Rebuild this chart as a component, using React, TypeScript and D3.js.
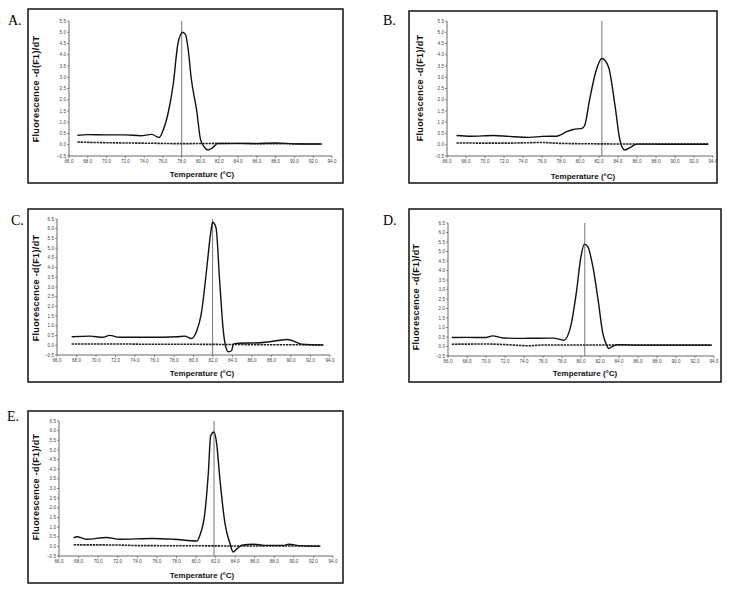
import React from 'react';
import * as d3 from 'd3';

// melt curves, temperature in °C and -d(F1)/dT
const aTemp = [66.9, 68.0, 70.0, 72.0, 73.6, 74.8, 75.6, 76.0, 76.6, 77.1, 77.6, 78.1, 78.4, 78.7, 79.0, 79.6, 80.0, 80.4, 80.8, 81.3, 81.8, 84.0, 86.0, 88.0, 90.0, 92.9];
const aSignal = [0.42, 0.45, 0.44, 0.44, 0.40, 0.46, 0.32, 0.62, 1.5, 2.7, 4.5, 5.0, 4.9, 4.2, 3.0, 1.5, 0.24, -0.1, -0.23, -0.13, 0.05, 0.06, 0.05, 0.08, 0.04, 0.03];
const aBaseTemp = [66.9, 70.0, 74.0, 78.0, 82.0, 86.0, 90.0, 92.9];
const aBaseline = [0.12, 0.09, 0.07, 0.05, 0.06, 0.05, 0.04, 0.03];

const bTemp = [67.0, 68.5, 70.9, 72.5, 74.7, 76.0, 77.5, 78.0, 78.6, 79.3, 80.2, 80.5, 81.0, 81.7, 82.3, 83.0, 83.7, 84.2, 84.7, 85.4, 86.0, 88.0, 90.0, 93.5];
const bSignal = [0.41, 0.38, 0.41, 0.37, 0.33, 0.37, 0.38, 0.45, 0.58, 0.68, 0.73, 0.87, 1.98, 3.3, 3.83, 3.46, 1.69, 0.21, -0.23, -0.09, 0.03, 0.03, 0.02, 0.02];
const bBaseTemp = [67.0, 72.0, 76.0, 78.0, 82.0, 88.0, 93.5];
const bBaseline = [0.08, 0.07, 0.1, 0.06, 0.04, 0.03, 0.03];

const cTemp = [67.5, 69.4, 70.7, 71.4, 72.4, 75.5, 78.3, 79.1, 79.8, 80.3, 80.8, 81.3, 81.75, 81.96, 82.3, 82.7, 83.05, 83.3, 83.57, 83.9, 84.1, 84.4, 86.8, 88.5, 89.6, 90.2, 91.1, 93.3];
const cSignal = [0.44, 0.47, 0.41, 0.51, 0.41, 0.41, 0.44, 0.47, 0.35, 0.70, 1.63, 3.68, 5.73, 6.33, 6.07, 3.17, 0.78, -0.07, -0.33, -0.28, 0.06, 0.10, 0.13, 0.23, 0.30, 0.23, 0.06, 0.01];
const cBaseTemp = [67.5, 72.0, 76.0, 80.0, 84.0, 88.0, 93.3];
const cBaseline = [0.07, 0.07, 0.05, 0.05, 0.04, 0.03, 0.02];

const dTemp = [66.4, 68.0, 70.0, 70.7, 71.8, 74.0, 77.1, 78.2, 78.9, 79.5, 80.0, 80.36, 80.7, 81.25, 81.8, 82.3, 82.7, 82.93, 83.3, 83.9, 86.0, 90.0, 93.75];
const dSignal = [0.47, 0.48, 0.47, 0.56, 0.45, 0.43, 0.44, 0.33, 1.03, 2.8, 4.74, 5.39, 5.27, 4.2, 2.45, 0.68, 0.07, -0.11, 0.01, 0.1, 0.07, 0.07, 0.07];
const dBaseTemp = [66.4, 70.0, 72.0, 74.5, 76.0, 80.0, 84.0, 90.0, 93.75];
const dBaseline = [0.12, 0.13, 0.1, 0.04, 0.08, 0.08, 0.08, 0.07, 0.07];

const eTemp = [67.5, 67.8, 68.8, 70.85, 72.2, 75.6, 77.7, 80.1, 80.4, 80.9, 81.26, 81.5, 81.84, 82.1, 82.45, 82.96, 83.47, 83.8, 84.2, 84.67, 85.9, 87.0, 88.9, 89.5, 90.5, 92.7];
const eSignal = [0.44, 0.5, 0.37, 0.46, 0.37, 0.41, 0.37, 0.28, 0.58, 1.71, 3.8, 5.72, 5.93, 5.37, 3.45, 1.19, 0.15, -0.29, -0.12, 0.06, 0.11, 0.05, 0.05, 0.11, 0.04, 0.01];
const eBaseTemp = [67.5, 72.0, 74.0, 80.0, 84.0, 88.0, 92.7];
const eBaseline = [0.08, 0.07, 0.04, 0.03, 0.02, 0.02, 0.01];

// Tm markers
const peakTemps = [78.0, 82.3, 81.96, 80.4, 81.84];
const yTops = [5.5, 5.5, 6.5, 6.5, 6.5];
const panelLabels = ['A.', 'B.', 'C.', 'D.', 'E.'];
const xTicks = d3.range(66, 95, 2);

const series = [
  [aTemp, aSignal, aBaseTemp, aBaseline],
  [bTemp, bSignal, bBaseTemp, bBaseline],
  [cTemp, cSignal, cBaseTemp, cBaseline],
  [dTemp, dSignal, dBaseTemp, dBaseline],
  [eTemp, eSignal, eBaseTemp, eBaseline],
];

// layout: frame box, plot area [left, top, right, bottom], label / title spots
const layout = [
  { box: [28, 9, 343, 183], plot: [69, 21, 332, 156], lab: [8, 25], yt: [36, 89], xt: [202, 174] },
  { box: [409, 11, 717, 183], plot: [447, 21, 713, 156], lab: [383, 25], yt: [420, 88], xt: [583, 176] },
  { box: [28, 209, 343, 382], plot: [57, 219, 330, 355], lab: [11, 225], yt: [36, 288], xt: [202, 373] },
  { box: [409, 209, 721, 382], plot: [448, 223, 714, 356], lab: [383, 225], yt: [416, 297], xt: [585, 373] },
  { box: [28, 411, 343, 583], plot: [59, 421, 333, 556], lab: [7, 421], yt: [36, 487], xt: [202, 575] },
];

const sans = '"Liberation Sans", Arial, sans-serif';
const fmt = d3.format('.1f');

const Panel = ({ i }: { i: number }) => {
  const L = layout[i];
  const [t, s, bt, b] = series[i];
  const [x0, y0, x1, y1] = L.plot;
  const x = d3.scaleLinear().domain([66, 94]).range([x0, x1]);
  const y = d3.scaleLinear().domain([-0.5, yTops[i]]).range([y1, y0]);
  const line = d3.line<number>()
    .x((_, k) => x(t[k]))
    .y(d => y(d))
    .curve(d3.curveMonotoneX);
  const baseLine = d3.line<number>()
    .x((_, k) => x(bt[k]))
    .y(d => y(d))
    .curve(d3.curveMonotoneX);
  const yTicks = d3.range(-1, yTops[i] * 2 + 1).map(v => v / 2);

  return (
    <g>
      <text x={L.lab[0]} y={L.lab[1]} fontFamily='"Liberation Serif", "Times New Roman", serif' fontSize={14}>{panelLabels[i]}</text>
      <rect x={L.box[0]} y={L.box[1]} width={L.box[2] - L.box[0]} height={L.box[3] - L.box[1]} fill="none" stroke="#111" strokeWidth={1.5} />

      {/* axes */}
      <line x1={x0} x2={x0} y1={y0} y2={y1} stroke="#444" strokeWidth={0.8} />
      <line x1={x0} x2={x1} y1={y1} y2={y1} stroke="#444" strokeWidth={0.8} />
      {yTicks.map(v => (
        <g key={'y' + v}>
          <line x1={x0 - 2} x2={x0} y1={y(v)} y2={y(v)} stroke="#444" strokeWidth={0.6} />
          <text x={x0 - 3} y={y(v)} dy="0.35em" textAnchor="end" fontFamily={sans} fontSize={4.6} fill="#444">{fmt(v)}</text>
        </g>
      ))}
      {xTicks.map(v => (
        <g key={'x' + v}>
          <line x1={x(v)} x2={x(v)} y1={y1} y2={y1 + 2} stroke="#444" strokeWidth={0.6} />
          <text x={x(v)} y={y1 + 7} textAnchor="middle" fontFamily={sans} fontSize={4.6} fill="#444">{fmt(v)}</text>
        </g>
      ))}

      {/* Tm marker */}
      <line x1={x(peakTemps[i])} x2={x(peakTemps[i])} y1={y0} y2={y1} stroke="#666" strokeWidth={0.9} />

      <path d={baseLine(b) || ''} fill="none" stroke="#222" strokeWidth={1.6} strokeDasharray="2.4,0.8" />
      <path d={line(s) || ''} fill="none" stroke="#111" strokeWidth={1.4} />

      <text x={L.xt[0]} y={L.xt[1]} dy="0.35em" textAnchor="middle" fontFamily={sans} fontWeight="bold" fontSize={8} fill="#111">Temperature (°C)</text>
      <text transform={`translate(${L.yt[0]},${L.yt[1]}) rotate(-90)`} dy="0.35em" textAnchor="middle" fontFamily={sans} fontWeight="bold" fontSize={9} letterSpacing={0.35} fill="#111">Fluorescence -d(F1)/dT</text>
    </g>
  );
};

export default function App() {
  return (
    <div>
      <style>{'body{margin:0;background:#fff}'}</style>
      <svg width={735} height={590} style={{ display: 'block' }}>
        <rect width={735} height={590} fill="#fff" />
        {layout.map((_, i) => <Panel key={i} i={i} />)}
      </svg>
    </div>
  );
}
